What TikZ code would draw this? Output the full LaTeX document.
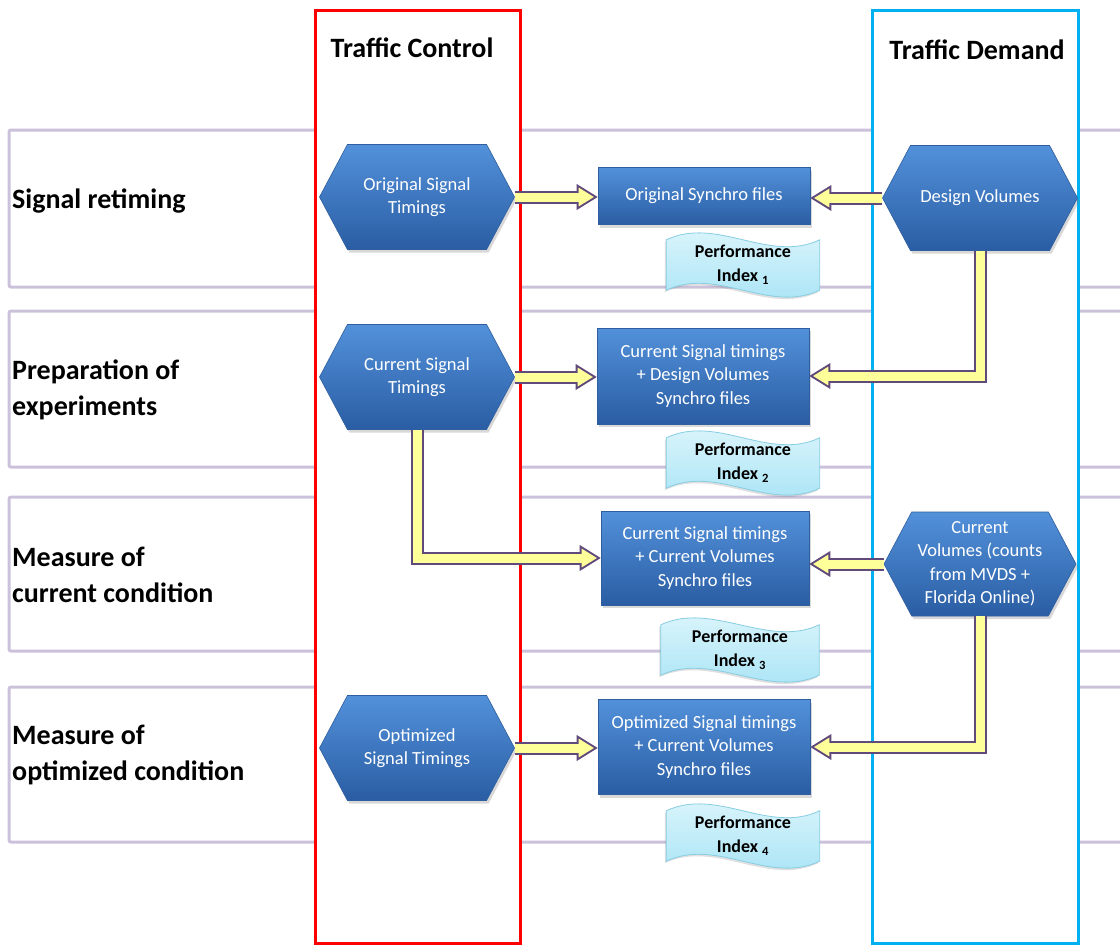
\documentclass[tikz,border=0pt]{standalone}
\usepackage{fontspec}
\setmainfont{Carlito}
\usetikzlibrary{shapes.symbols,arrows.meta,shadows,calc}

\definecolor{boxtop}{HTML}{5291DA}
\definecolor{boxbot}{HTML}{2A5DA3}
\definecolor{boxline}{HTML}{2F5F9E}
\definecolor{lav}{HTML}{CCC1DA}
\definecolor{ctrlred}{HTML}{FF0000}
\definecolor{demblue}{HTML}{00B0F0}
\definecolor{arrpurple}{HTML}{604A7B}
\definecolor{arryellow}{HTML}{FFFF99}
\definecolor{doctop}{HTML}{E2F7FC}
\definecolor{docbot}{HTML}{A3E2F5}
\definecolor{docline}{HTML}{86CDE2}

\pgfdeclarelayer{back}
\pgfdeclarelayer{docs}
\pgfsetlayers{back,docs,main}

\tikzset{
  band/.style={draw=lav, line width=3pt, rounded corners=2pt},
  lane/.style={line width=3pt, fill=white},
  title/.style={font=\fontsize{28}{32}\selectfont\bfseries, inner sep=0pt},
  rowlabel/.style={font=\fontsize{28}{36}\selectfont\bfseries, anchor=west, align=left, inner sep=0pt},
  blueshape/.style={top color=boxtop, bottom color=boxbot, draw=boxline, line width=0.6pt,
    text=white, font=\fontsize{18.5}{23.5}\selectfont, align=center, inner sep=0pt,
    drop shadow={opacity=0.3, shadow xshift=2pt, shadow yshift=-3pt}},
  hexa/.style={blueshape, shape=signal, signal to=east and west, signal pointer angle=124,
    minimum width=195pt, minimum height=105pt},
  filebox/.style={blueshape, rectangle, minimum width=212pt},
  perf/.style={rectangle, font=\fontsize{18}{24}\selectfont\bfseries, align=center,
    inner sep=0pt, minimum width=153pt, minimum height=50pt},
  docshape/.style={top color=doctop, bottom color=docbot, draw=docline, line width=0.8pt,
    drop shadow={opacity=0.25, shadow xshift=-1.5pt, shadow yshift=-2pt}}
}

\newcommand\blockarrow[1]{%
  \draw[line width=13pt, draw=arrpurple, line join=miter,
    -{Triangle[length=21pt,width=26pt,line width=0pt]}] #1;
  \draw[line width=9pt, draw=arryellow, line join=miter, shorten >=3.8pt,
    -{Triangle[length=15.2pt,width=18.8pt,line width=0pt]}] #1;
}
\newcommand\tapeoutline[1]{%
  \begin{pgfonlayer}{docs}
  \path[docshape] (#1.north west) .. controls +(51,-24) and +(-51,24) .. (#1.north east)
    -- (#1.south east) .. controls +(-51,24) and +(51,-24) .. (#1.south west) -- cycle;
  \end{pgfonlayer}%
}

\begin{document}
\begin{tikzpicture}[x=1pt,y=-1pt]
\useasboundingbox (0,0) rectangle (1120,945);
\clip (0,0) rectangle (1120,945);

\begin{pgfonlayer}{back}
% row bands
\draw[band] (9,130) rectangle (1130,287);
\draw[band] (9,311) rectangle (1130,467);
\draw[band] (9,497) rectangle (1130,651);
\draw[band] (9,687) rectangle (1130,842);
% lanes
\draw[lane, draw=ctrlred] (315,10) rectangle (520,943);
\draw[lane, draw=demblue] (872,10) rectangle (1078,943);
\end{pgfonlayer}

% titles
\node[title] (tc) at (412,48) {Traffic Control};
\node[title] (td) at (977,50) {Traffic Demand};

% row labels
\node[rowlabel] (l1) at (12,201) {Signal retiming};
\node[rowlabel] (l2) at (12,390) {Preparation of\\experiments};
\node[rowlabel] (l3) at (12,575) {Measure of\\current condition};
\node[rowlabel] (l4) at (12,755) {Measure of\\optimized condition};

% hexagons
\node[hexa] (ost) at (417,197) {Original Signal\\Timings};
\node[hexa] (cst) at (417,377) {Current Signal\\Timings};
\node[hexa] (opt) at (417,748) {Optimized\\Signal Timings};
\node[hexa] (dv) at (980,198) {Design Volumes};
\node[hexa, minimum width=192pt, minimum height=104pt] (cv) at (980,564)
  {Current\\Volumes (counts\\from MVDS +\\Florida Online)};

% synchro file boxes
\node[filebox, minimum height=57pt] (osf) at (704,196) {Original Synchro files};
\node[filebox, minimum height=96pt] (cdf) at (703,376) {Current Signal timings\\+ Design Volumes\\Synchro files};
\node[filebox, minimum width=208pt, minimum height=94pt] (ccf) at (705,558) {Current Signal timings\\+ Current Volumes\\Synchro files};
\node[filebox, minimum height=95pt] (ocf) at (704,747) {Optimized Signal timings\\+ Current Volumes\\Synchro files};

% performance indices
\node[perf] (p1) at (743,265) {Performance\\Index \textsubscript{1}};
\node[perf] (p2) at (743,463) {Performance\\Index \textsubscript{2}};
\node[perf, minimum width=158pt] (p3) at (740,650) {Performance\\Index \textsubscript{3}};
\node[perf] (p4) at (743,836) {Performance\\Index \textsubscript{4}};
\tapeoutline{p1}
\tapeoutline{p2}
\tapeoutline{p3}
\tapeoutline{p4}

% arrows
\blockarrow{(ost.east) -- (ost.east -| osf.west)}
\blockarrow{(dv.west) -- (dv.west -| osf.east)}
\blockarrow{(dv.south) |- (cdf.east)}
\blockarrow{(cst.east) -- (cst.east -| cdf.west)}
\blockarrow{(cst.south) |- (ccf.west)}
\blockarrow{(cv.west) -- (cv.west -| ccf.east)}
\blockarrow{(cv.south) |- (ocf.east)}
\blockarrow{(opt.east) -- (opt.east -| ocf.west)}
\end{tikzpicture}
\end{document}
